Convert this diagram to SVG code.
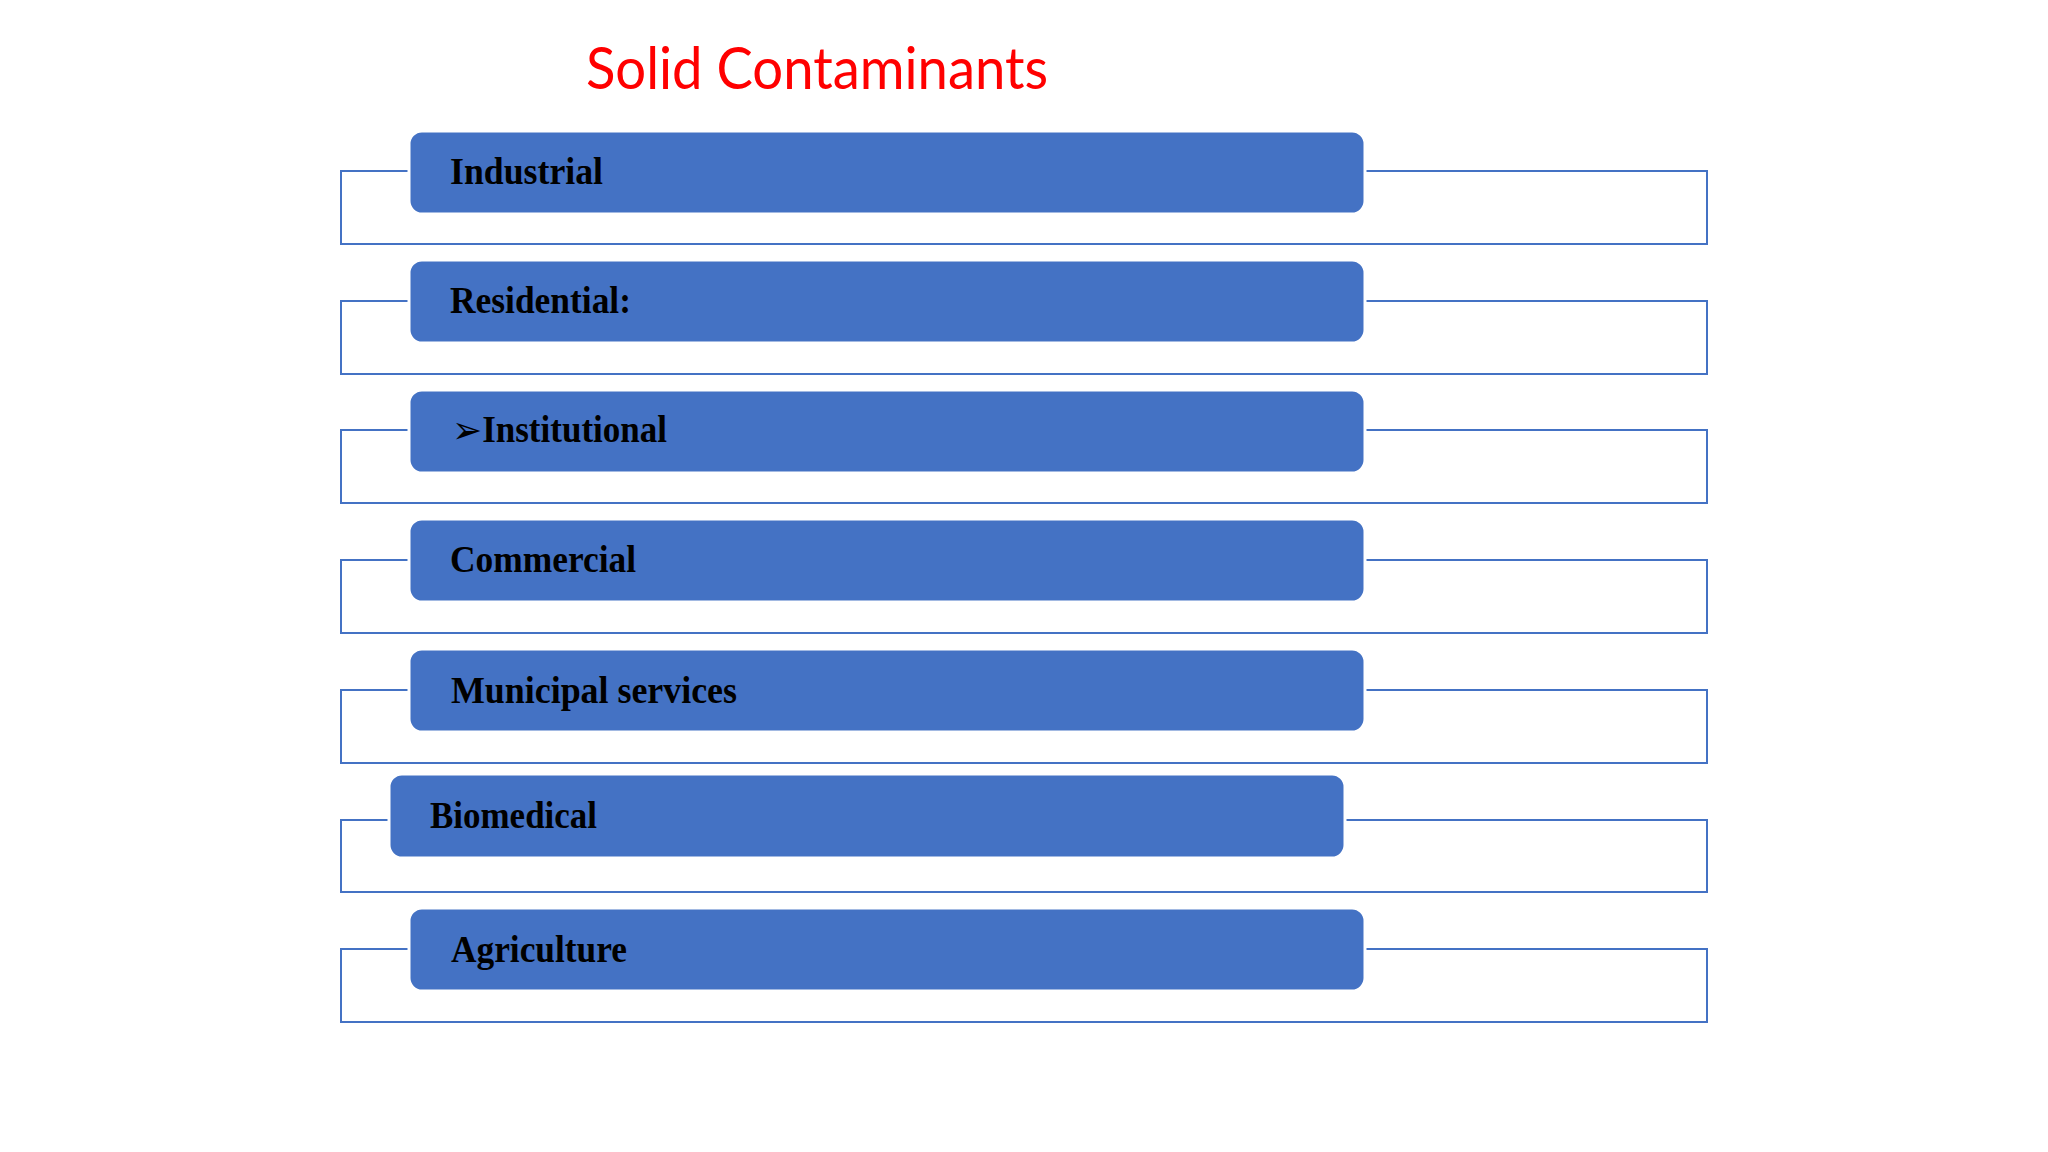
<svg xmlns="http://www.w3.org/2000/svg" width="2048" height="1152" viewBox="0 0 2048 1152">
<style>
.bg{fill:#ffffff}
.title{font-family:Lato,"Liberation Sans",sans-serif;font-size:58px;fill:#ff0000}
.frame{fill:none;stroke:#4472c4;stroke-width:2}
.box{fill:#4472c4;stroke:#ffffff;stroke-width:3}
.lbl{font-family:"Liberation Serif","Times New Roman",serif;font-weight:bold;font-size:37px;fill:#000000}
.arr{font-family:"DejaVu Sans",sans-serif;font-weight:bold;font-size:38px}
</style>
<rect class="bg" x="0" y="0" width="2048" height="1152"/>
<text id="title" class="title" x="586" y="89" textLength="462" lengthAdjust="spacingAndGlyphs">Solid Contaminants</text>
<g id="connectors">
<path class="frame" d="M409,171 H341 V244 H1707 V171 H1366"/>
<path class="frame" d="M409,301 H341 V374 H1707 V301 H1366"/>
<path class="frame" d="M409,430 H341 V503 H1707 V430 H1366"/>
<path class="frame" d="M409,560 H341 V633 H1707 V560 H1366"/>
<path class="frame" d="M409,690 H341 V763 H1707 V690 H1366"/>
<path class="frame" d="M389,820 H341 V892 H1707 V820 H1346"/>
<path class="frame" d="M409,949 H341 V1022 H1707 V949 H1366"/>
</g>
<g id="n1"><rect class="box" x="409" y="131" width="956" height="83" rx="13"/><text class="lbl" x="450" y="184" textLength="153" lengthAdjust="spacingAndGlyphs">Industrial</text></g>
<g id="n2"><rect class="box" x="409" y="260" width="956" height="83" rx="13"/><text class="lbl" x="450" y="313" textLength="181" lengthAdjust="spacingAndGlyphs">Residential:</text></g>
<g id="n3"><rect class="box" x="409" y="390" width="956" height="83" rx="13"/><text class="lbl" x="452" y="442" textLength="215" lengthAdjust="spacingAndGlyphs"><tspan class="arr" dy="1">➢</tspan><tspan dy="-1">Institutional</tspan></text></g>
<g id="n4"><rect class="box" x="409" y="519" width="956" height="83" rx="13"/><text class="lbl" x="450" y="572" textLength="186" lengthAdjust="spacingAndGlyphs">Commercial</text></g>
<g id="n5"><rect class="box" x="409" y="649" width="956" height="83" rx="13"/><text class="lbl" x="451" y="703" textLength="286" lengthAdjust="spacingAndGlyphs">Municipal services</text></g>
<g id="n6"><rect class="box" x="389" y="774" width="956" height="84" rx="13"/><text class="lbl" x="430" y="828" textLength="167" lengthAdjust="spacingAndGlyphs">Biomedical</text></g>
<g id="n7"><rect class="box" x="409" y="908" width="956" height="83" rx="13"/><text class="lbl" x="451" y="962" textLength="176" lengthAdjust="spacingAndGlyphs">Agriculture</text></g>
</svg>
